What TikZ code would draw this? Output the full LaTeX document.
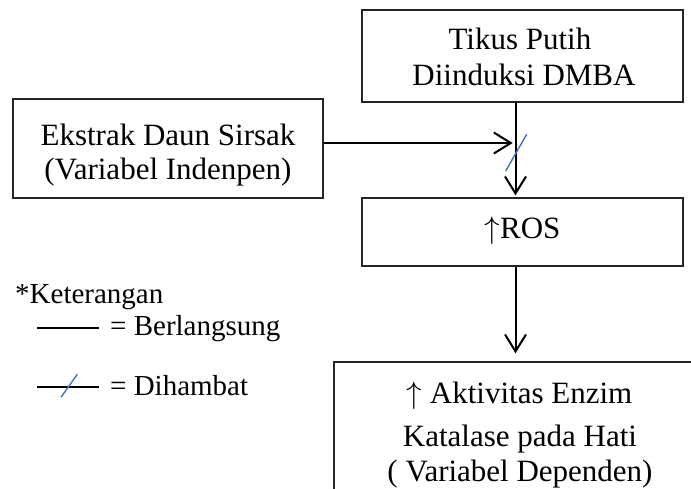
\documentclass[tikz,border=0pt]{standalone}
\usepackage{fix-cm}
\usepackage{fontspec}
\setmainfont{Liberation Serif}
\usetikzlibrary{arrows.meta}
\definecolor{slashblue}{HTML}{4472C4}
\newcommand{\uparr}{\ensuremath{\uparrow}}
\begin{document}
\begin{tikzpicture}[x=1pt,y=-1pt,
  box/.style={draw=black!85, line width=1.3pt, rectangle, inner sep=0pt},
  txt/.style={inner sep=0pt, anchor=base, font=\fontsize{31}{35.5}\selectfont},
  legtxt/.style={inner sep=0pt, anchor=base west, font=\fontsize{29}{33}\selectfont},
  conn/.style={line width=2pt, -{Straight Barb[length=17pt,width=21pt]}},
  slash/.style={draw=slashblue, line width=1.4pt},
  legline/.style={line width=1.8pt},
]
\useasboundingbox (0,0) rectangle (691,489);
\clip (0,0) rectangle (691,489);

% boxes
\node[box, minimum width=321pt, minimum height=92pt] (top) at (522.5,56) {};
\node[box, minimum width=310pt, minimum height=99pt] (left) at (168,148.5) {};
\node[box, minimum width=321pt, minimum height=68pt] (ros) at (522.5,232) {};
\node[box, minimum width=372pt, minimum height=198pt] (bot) at (520,461) {};

% texts
\node[txt] (t1) at (520,50) {Tikus Putih};
\node[txt] (t2) at (524,86) {Diinduksi DMBA};
\node[txt] (l1) at (168,146) {Ekstrak Daun Sirsak};
\node[txt] (l2) at (168,180) {(Variabel Indenpen)};
\node[txt] (r1) at (522.5,239) {\uparr ROS};
\node[txt] (b1) at (519.5,403) {\uparr{} Aktivitas Enzim};
\node[txt] (b2) at (520,446) {Katalase pada Hati};
\node[txt] (b3) at (520,481) {( Variabel Dependen)};

% connectors
\coordinate (vx) at (515.5,0);
\coordinate (htip) at (512.7,143);
\draw[conn] (top.south -| vx) -- ([yshift=2pt]ros.north -| vx);
\draw[conn] (left.east |- htip) -- (htip);
\draw[conn] (ros.south -| vx) -- ([yshift=8pt]bot.north -| vx);
\draw[slash] (505.7,171) -- (526.7,134.3);

% legend
\node[legtxt] (ket) at (15,303) {*Keterangan};
\draw[legline] (37,328) -- (99,328);
\node[legtxt] (leg1) at (110,335) {= Berlangsung};
\draw[legline] (37,387) -- (99,387);
\draw[slash] (61,397.3) -- (77.3,374.3);
\node[legtxt] (leg2) at (110,395) {= Dihambat};
\end{tikzpicture}
\end{document}
